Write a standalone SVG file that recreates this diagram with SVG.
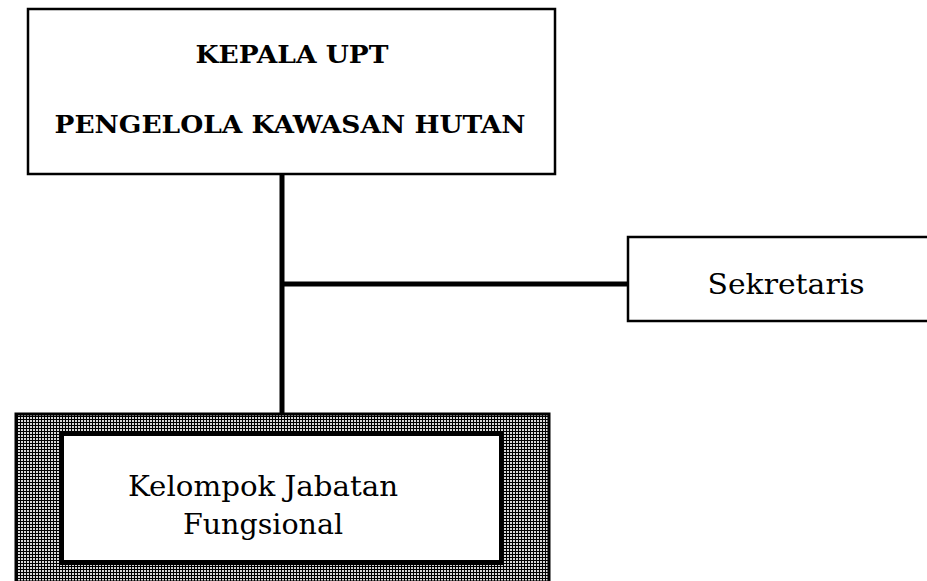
<svg xmlns="http://www.w3.org/2000/svg" width="927" height="581" viewBox="0 0 927 581">
<defs>
<pattern id="grid" x="0" y="0" width="3" height="3" patternUnits="userSpaceOnUse">
<rect width="3" height="3" fill="#000"/>
<rect x="0" y="0" width="2" height="2" fill="#d8d8d8"/>
</pattern>
</defs>
<style>
.box{fill:#fff;stroke:#000;stroke-width:2.5}
.conn{stroke:#000;stroke-width:5;fill:none}
.t{font-family:"DejaVu Serif","Liberation Serif",serif;fill:#000;text-anchor:middle}
.b{font-weight:bold;font-size:25px}
.n{font-size:28px}
</style>
<rect width="927" height="581" fill="#fff"/>
<g id="connectors">
<line class="conn" x1="282" y1="174" x2="282" y2="414"/>
<line class="conn" x1="282" y1="284" x2="628" y2="284"/>
</g>
<g id="kepala">
<rect class="box" x="28" y="9" width="527" height="165"/>
<text class="t b" x="292" y="63" textLength="193" lengthAdjust="spacingAndGlyphs">KEPALA UPT</text>
<text class="t b" x="290" y="133" textLength="471" lengthAdjust="spacingAndGlyphs">PENGELOLA KAWASAN HUTAN</text>
</g>
<g id="sekretaris">
<rect class="box" x="628" y="237" width="310" height="84"/>
<text class="t n" x="786" y="294" textLength="157" lengthAdjust="spacingAndGlyphs">Sekretaris</text>
</g>
<g id="kelompok">
<rect x="16" y="414" width="533" height="168" fill="url(#grid)" stroke="#000" stroke-width="3"/>
<rect x="61.5" y="433.5" width="440" height="129" fill="#fff" stroke="#000" stroke-width="5"/>
<text class="t n" x="263" y="496" textLength="270" lengthAdjust="spacingAndGlyphs">Kelompok Jabatan</text>
<text class="t n" x="263" y="534" textLength="160" lengthAdjust="spacingAndGlyphs">Fungsional</text>
</g>
</svg>
